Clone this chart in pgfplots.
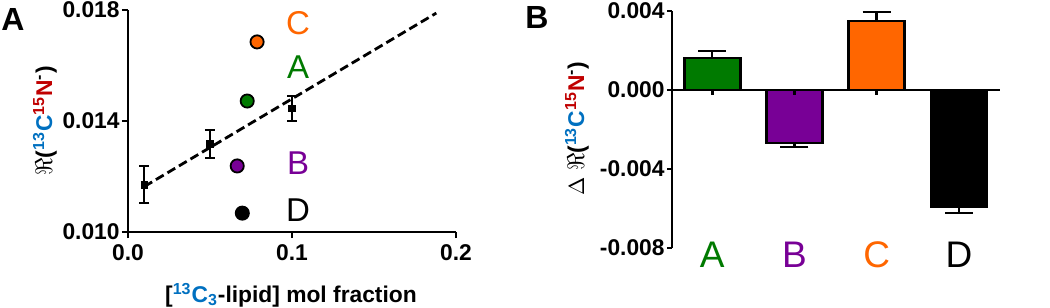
\documentclass[border=0pt]{standalone}
\usepackage{pgfplots}
\pgfplotsset{compat=1.18}
\usepackage{fontspec}
\setmainfont{Liberation Sans}
\definecolor{cgreen}{RGB}{0,122,0}
\definecolor{cpurple}{RGB}{120,0,150}
\definecolor{corange}{RGB}{255,102,0}
\definecolor{cblue}{RGB}{0,112,192}
\definecolor{cred}{RGB}{192,0,0}
\newcommand{\fs}{\fontsize{11.4}{13}\selectfont}
\newcommand{\Rlab}{{\large$\Re$}(\textsuperscript{\color{cblue}13}{\color{cblue}C}\textsuperscript{\color{cred}15}{\color{cred}N}\textsuperscript{-})}
\begin{document}
\begin{tikzpicture}[x=1pt,y=1pt]
\useasboundingbox (0,0) rectangle (525,153.5);
\begin{axis}[at={(64pt,37.5pt)}, anchor=south west, scale only axis,
  width=164pt, height=111pt,
  xmin=0, xmax=0.2, ymin=0.010, ymax=0.018,
  axis lines*=left, tick align=outside, major tick length=3pt,
  axis line style={line width=1.4pt}, tick style={line width=1.4pt, black},
  xtick={0,0.1,0.2}, ytick={0.010,0.014,0.018}, scaled ticks=false,
  ticklabel style={font=\fs\bfseries, /pgf/number format/assume math mode=true},
  xticklabel style={/pgf/number format/.cd, fixed, fixed zerofill, precision=1},
  yticklabel style={inner xsep=1pt, /pgf/number format/.cd, fixed, fixed zerofill, precision=3},
  clip=false]
\addplot[black, line width=1.4pt, dash pattern=on 4.5pt off 2.2pt] coordinates {(0.01,0.01164) (0.188,0.01789)};
\addplot[black, only marks, mark=square*, mark size=1.6pt,
  error bars/.cd, y dir=both, y explicit,
  error bar style={line width=1pt},
  error mark options={rotate=90, mark size=2.5pt, line width=1pt}]
  coordinates {(0.01,0.0117) +- (0,0.00067) (0.05,0.01317) +- (0,0.0005) (0.1,0.01445) +- (0,0.00045)};
\addplot[only marks, mark=*, mark size=3.3pt, mark options={draw=black, line width=0.9pt, fill=corange}] coordinates {(0.0787,0.01685)};
\addplot[only marks, mark=*, mark size=3.3pt, mark options={draw=black, line width=0.9pt, fill=cgreen}] coordinates {(0.0727,0.01472)};
\addplot[only marks, mark=*, mark size=3.3pt, mark options={draw=black, line width=0.9pt, fill=cpurple}] coordinates {(0.0666,0.01238)};
\addplot[only marks, mark=*, mark size=3.3pt, mark options={draw=black, line width=0.9pt, fill=black}] coordinates {(0.0697,0.01068)};
\node[text=corange, font=\fontsize{16.5}{16}\selectfont] at (axis cs:0.1037,0.01753) {C};
\node[text=cgreen, font=\fontsize{16.5}{16}\selectfont] at (axis cs:0.1037,0.01595) {A};
\node[text=cpurple, font=\fontsize{16.5}{16}\selectfont] at (axis cs:0.1037,0.01249) {B};
\node[text=black, font=\fontsize{16.5}{16}\selectfont] at (axis cs:0.1037,0.01079) {D};
\end{axis}
\begin{axis}[at={(336pt,29.5pt)}, anchor=south west, scale only axis,
  width=164pt, height=118.5pt,
  xmin=-0.49, xmax=3.5, ymin=-0.008, ymax=0.004,
  axis y line*=left, axis x line*=middle, tick align=outside, major tick length=2.5pt,
  axis line style={line width=1.4pt}, tick style={line width=1.3pt, black},
  xtick={0,1,2,3}, xticklabels={{},{},{},{}},
  ytick={-0.008,-0.004,0,0.004}, scaled ticks=false,
  ticklabel style={font=\fs\bfseries, /pgf/number format/assume math mode=true},
  yticklabel style={inner xsep=1pt, /pgf/number format/.cd, fixed, fixed zerofill, precision=3},
  axis on top, clip=false]
\addplot[ybar, bar width=28pt, bar shift=0pt, fill=cgreen, draw=black, line width=1.3pt,
  error bars/.cd, y dir=plus, y explicit, error bar style={line width=1.2pt},
  error mark options={rotate=90, mark size=7pt, line width=1.2pt}]
  coordinates {(0,0.00162) +- (0,0.00035)};
\addplot[ybar, bar width=28pt, bar shift=0pt, fill=cpurple, draw=black, line width=1.3pt,
  error bars/.cd, y dir=minus, y explicit, error bar style={line width=1.2pt},
  error mark options={rotate=90, mark size=7pt, line width=1.2pt}]
  coordinates {(1,-0.00268) +- (0,0.0002)};
\addplot[ybar, bar width=28pt, bar shift=0pt, fill=corange, draw=black, line width=1.3pt,
  error bars/.cd, y dir=plus, y explicit, error bar style={line width=1.2pt},
  error mark options={rotate=90, mark size=7pt, line width=1.2pt}]
  coordinates {(2,0.00349) +- (0,0.00045)};
\addplot[ybar, bar width=28pt, bar shift=0pt, fill=black, draw=black, line width=1.3pt,
  error bars/.cd, y dir=minus, y explicit, error bar style={line width=1.2pt},
  error mark options={rotate=90, mark size=7pt, line width=1.2pt}]
  coordinates {(3,-0.00592) +- (0,0.0003)};
\node[text=cgreen, font=\fontsize{18.5}{18}\selectfont] at (axis cs:0,-0.00835) {A};
\node[text=cpurple, font=\fontsize{18.5}{18}\selectfont] at (axis cs:1,-0.00835) {B};
\node[text=corange, font=\fontsize{18.5}{18}\selectfont] at (axis cs:2,-0.00835) {C};
\node[text=black, font=\fontsize{18.5}{18}\selectfont] at (axis cs:3,-0.00835) {D};
\end{axis}
\node[rotate=90, font=\fs\bfseries] at (22.5,93) {\Rlab};
\node[rotate=90, font=\fs\bfseries] at (288.5,89.25) {$\Delta$ \Rlab};
\node[anchor=base, font=\fs\bfseries] at (145.5,2.5) {[{\color{cblue}\textsuperscript{13}C\textsubscript{3}}-lipid] mol fraction};
\node[font=\fontsize{16}{16}\selectfont\bfseries] at (6.5,144) {A};
\node[font=\fontsize{16}{16}\selectfont\bfseries] at (268.5,144.75) {B};
\end{tikzpicture}
\end{document}
